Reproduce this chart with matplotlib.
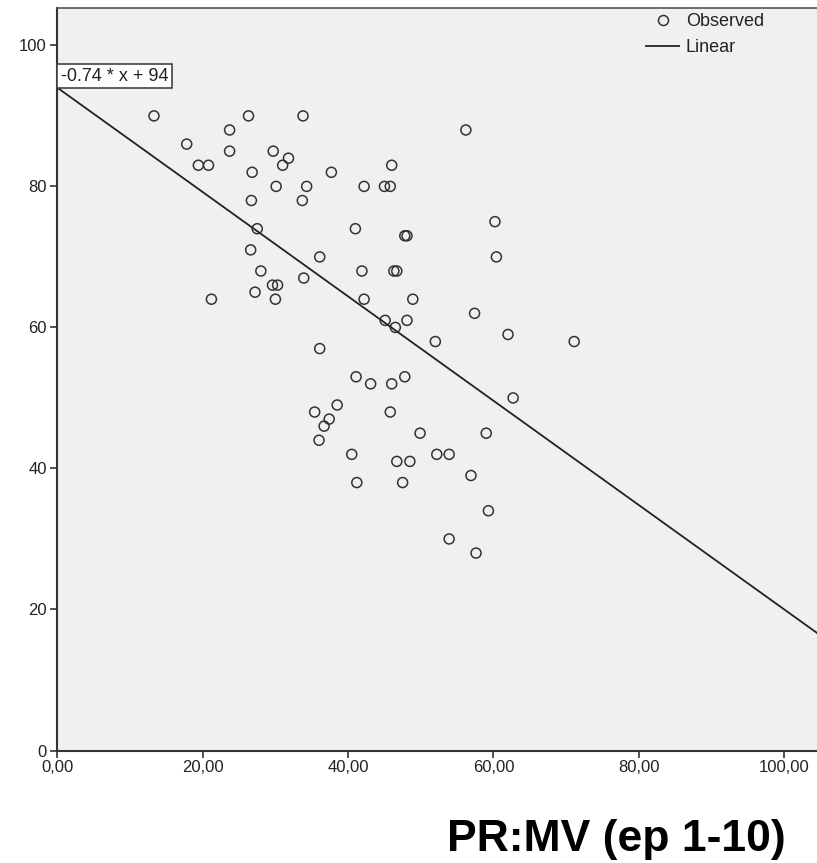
import numpy as np
import matplotlib
matplotlib.use('Agg')
import matplotlib.pyplot as plt
from matplotlib.lines import Line2D

plt.rcParams['font.family'] = ['Liberation Sans', 'DejaVu Sans']

# Observed points
x_vals = [13.3, 17.8, 19.4, 20.8, 23.7, 23.7, 26.3, 33.8, 29.7, 31.8,
          31.0, 26.8, 37.7, 26.7, 30.1, 34.3, 33.7, 42.2, 45.0, 45.8,
          46.0, 56.2, 27.5, 41.0, 21.2, 26.6, 28.0, 36.1, 27.2, 29.6,
          30.3, 30.0, 33.9, 41.9, 46.3, 46.7, 47.8, 48.1, 60.2, 60.4,
          42.2, 48.9, 45.1, 46.5, 48.1, 52.0, 57.4, 62.0, 71.1, 36.1,
          41.1, 43.1, 46.0, 47.8, 62.7, 35.4, 38.5, 37.4, 36.7, 36.0,
          45.8, 49.9, 59.0, 40.5, 52.2, 53.9, 46.7, 48.5, 56.9, 41.2,
          47.5, 59.3, 53.9, 57.6]
y_vals = [90, 86, 83, 83, 88, 85, 90, 90, 85, 84,
          83, 82, 82, 78, 80, 80, 78, 80, 80, 80,
          83, 88, 74, 74, 64, 71, 68, 70, 65, 66,
          66, 64, 67, 68, 68, 68, 73, 73, 75, 70,
          64, 64, 61, 60, 61, 58, 62, 59, 58, 57,
          53, 52, 52, 53, 50, 48, 49, 47, 46, 44,
          48, 45, 45, 42, 42, 42, 41, 41, 39, 38,
          38, 34, 30, 28]

# Linear fit shown in the chart
slope = -0.74
intercept = 94
fit_label = "-0.74 * x + 94"

x_ticks = [0, 20, 40, 60, 80, 100]
x_tick_labels = ["0,00", "20,00", "40,00", "60,00", "80,00", "100,00"]
y_ticks = [0, 20, 40, 60, 80, 100]
title = "PR:MV (ep 1-10)"

W, H = 817, 863
fig = plt.figure(figsize=(W / 100, H / 100), dpi=100)
ax = fig.add_axes([57.3 / W, (H - 750.5) / H, (W - 57.3) / W, (750.5 - 8) / H])
ax.set_facecolor('#f0f0f0')

xmax, ymax = 104.5, 105.3
ax.set_xlim(0, xmax)
ax.set_ylim(0, ymax)

# Points and fit line
ax.scatter(x_vals, y_vals, s=52, facecolors='none', edgecolors='#333333',
           linewidths=1.1, zorder=3)
line_x = np.array([0, xmax])
ax.plot(line_x, slope * line_x + intercept, color='#222222', lw=1.3, zorder=4)

# Equation box
ax.text(0.45, intercept + 0.45, fit_label, ha='left', va='bottom', fontsize=13,
        color='#222222', zorder=5,
        bbox=dict(boxstyle='square,pad=0.22', facecolor='white',
                  edgecolor='#444444', linewidth=1.2))

# Axes styling
for side in ['left', 'bottom']:
    ax.spines[side].set_color('#333333')
    ax.spines[side].set_linewidth(1.5)
ax.spines['top'].set_color('#555555')
ax.spines['top'].set_linewidth(1.2)
ax.spines['right'].set_visible(False)

ax.set_xticks(x_ticks)
ax.set_xticklabels(x_tick_labels)
ax.set_yticks(y_ticks)
ax.set_yticklabels([str(v) for v in y_ticks])
ax.tick_params(axis='both', labelsize=12, colors='#333333', labelcolor='#222222',
               width=1.2, length=5, pad=1.5)
ax.tick_params(axis='y', pad=2.5)

# Legend
handles = [
    Line2D([], [], marker='o', linestyle='none', markersize=7.2,
           markerfacecolor='none', markeredgecolor='#333333', markeredgewidth=1.1),
    Line2D([], [], color='#222222', lw=1.3),
]
fig.legend(handles, ['Observed', 'Linear'], loc='upper left',
           bbox_to_anchor=(646 / W, 1 - 13 / H), frameon=False, fontsize=13,
           handlelength=1.85, handletextpad=0.35, labelspacing=0.5,
           borderpad=0, borderaxespad=0, labelcolor='#222222')

fig.text(616 / W, 12 / H, title, ha='center', va='baseline', fontsize=32,
         fontweight='bold', color='black')

fig.savefig('out.png', dpi=100, facecolor='white')
